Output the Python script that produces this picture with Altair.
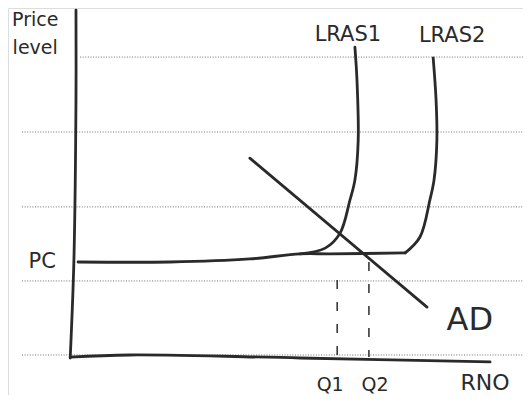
import altair as alt
import pandas as pd

yaxis_q = [-0.5, -0.5, -1.0, -1.9]
yaxis_p = [115.6, 85.7, 32.6, 0.0]

xaxis_q = [-1.9, 12.6, 53.9, 100.0]
xaxis_p = [0.3, 1.0, 0.0, -1.3]

# PC floor
pc_q = [0.0, 22.3, 41.7, 53.9, 61.2, 79.4]
pc_p = [31.9, 31.9, 32.9, 34.6, 34.6, 34.9]

# LRAS2 rising from the kink at the end of the floor
lras2_q = [79.4, 83.0, 85.4, 86.4, 87.1, 86.9, 86.2]
lras2_p = [34.9, 40.2, 52.5, 59.1, 72.4, 85.7, 99.7]

lras1_q = [67.2, 67.7, 68.0, 67.2, 66.0, 63.6, 60.0, 53.9]
lras1_p = [103.3, 92.4, 72.4, 59.1, 52.5, 41.5, 36.5, 34.6]

ad_q = [41.7, 84.7]
ad_p = [66.4, 16.9]

# dashed drop lines
drop_q = [62.9, 70.6]
drop_top = [25.9, 31.9]
drop_bottom = [0.3, 0.3]

# ruled paper lines
rule_p = [100.0, 75.1, 50.2, 25.6, 1.0]
rule_start = [0.5, -13.6, -13.6, -13.6, -13.6]
rule_end = [108, 108, 108, 108, 108]

# labels
label_text = ["Price", "level", "LRAS1", "LRAS2", "PC", "AD", "Q1", "Q2", "RNO"]
label_q = [-10.4, -10.4, 65.5, 90.8, -8.7, 95.1, 61.2, 72.1, 98.8]
label_p = [112.3, 103.0, 107.3, 107.0, 31.9, 12.6, -9.0, -9.0, -8.3]
label_size = [19, 19, 21, 21, 21, 32, 19, 19, 22]

XD = [-17, 108]
YD = [-12.3, 116.3]


def xs(field="q"):
    return alt.X(f"{field}:Q", scale=alt.Scale(domain=XD, nice=False, zero=False), axis=None)


def ys(field="p"):
    return alt.Y(f"{field}:Q", scale=alt.Scale(domain=YD, nice=False, zero=False), axis=None)


rows = []
for name, qs, ps in [("yaxis", yaxis_q, yaxis_p), ("xaxis", xaxis_q, xaxis_p),
                     ("pc", pc_q, pc_p), ("lras2", lras2_q, lras2_p),
                     ("lras1", lras1_q, lras1_p), ("ad", ad_q, ad_p)]:
    for i, (q, p) in enumerate(zip(qs, ps)):
        rows.append({"series": name, "i": i, "q": q, "p": p})
curves = pd.DataFrame(rows)

grid = pd.DataFrame({"p": rule_p, "q": rule_start, "q2": rule_end})
drops = pd.DataFrame({"q": drop_q, "p": drop_top, "p2": drop_bottom})
labels = pd.DataFrame({"t": label_text, "q": label_q, "p": label_p, "s": label_size})

grid_layer = alt.Chart(grid).mark_rule(color="#6f6f6f", strokeWidth=1, strokeDash=[1, 1.6]).encode(
    y=ys(), x=xs(), x2="q2:Q"
)

curve_layer = alt.Chart(curves).mark_line(
    color="#2a2a2a", strokeWidth=2.8, strokeCap="round", strokeJoin="round", interpolate="catmull-rom"
).encode(x=xs(), y=ys(), detail="series:N", order="i:Q")

drop_layer = alt.Chart(drops).mark_rule(color="#3a3a3a", strokeWidth=1.6, strokeDash=[9, 13]).encode(
    x=xs(), y=ys(), y2="p2:Q"
)

text_layer = alt.Chart(labels).mark_text(
    color="#2a2a2a", font="DejaVu Sans", align="center", baseline="middle"
).encode(x=xs(), y=ys(), text="t:N", size=alt.Size("s:Q", scale=None, legend=None))

chart = alt.layer(grid_layer, curve_layer, drop_layer, text_layer).properties(
    width=515, height=387, autosize=alt.AutoSizeParams(type="none"), padding=0
).configure_view(stroke=None).configure(background="white")

chart.save("out.html", embed_options={"renderer": "svg", "actions": False})
